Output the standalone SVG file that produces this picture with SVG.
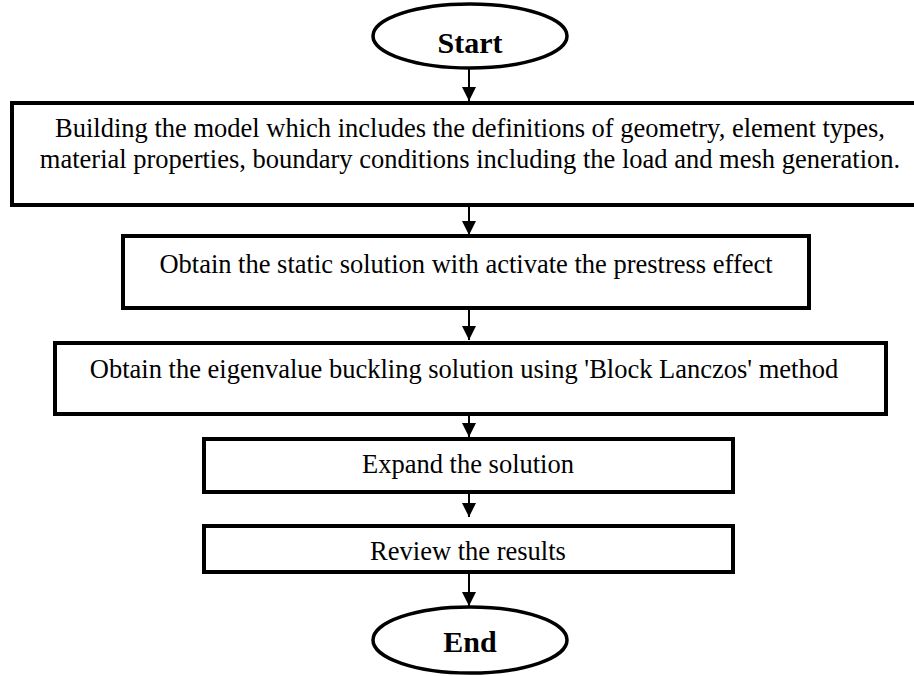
<svg xmlns="http://www.w3.org/2000/svg" width="914" height="676" viewBox="0 0 914 676">
<defs>
<style>
.box{fill:#fff;stroke:#000;stroke-width:4}
.term{fill:#fff;stroke:#000;stroke-width:3.5}
.t{font-family:"Liberation Serif","Times New Roman",serif;font-size:26.5px;fill:#000;text-anchor:middle}
.tb{font-family:"Liberation Serif","Times New Roman",serif;font-size:30px;font-weight:bold;fill:#000;text-anchor:middle}
.c{stroke:#000;stroke-width:2;fill:none;marker-end:url(#ah)}
</style>
<marker id="ah" viewBox="0 0 14 15" refX="14" refY="7" markerWidth="14" markerHeight="15" markerUnits="userSpaceOnUse" orient="auto">
<path d="M0,0 L14,7 L0,14 Z" fill="#000"/>
</marker>
</defs>
<rect width="914" height="676" fill="#fff"/>
<g id="connectors">
<line class="c" x1="469" y1="68" x2="469" y2="101"/>
<line class="c" x1="469" y1="206" x2="469" y2="235"/>
<line class="c" x1="469" y1="309" x2="469" y2="340"/>
<line class="c" x1="469" y1="414" x2="469" y2="437"/>
<line class="c" x1="469" y1="493" x2="469" y2="517"/>
<line class="c" x1="469" y1="573" x2="469" y2="606"/>
</g>
<g id="start">
<ellipse class="term" cx="470" cy="36" rx="97" ry="32"/>
<text class="tb" x="470" y="53">Start</text>
</g>
<g id="build">
<rect class="box" x="12" y="103" width="910" height="102"/>
<text class="t" x="470" y="137">Building the model which includes the definitions of geometry, element types,</text>
<text class="t" x="470" y="168">material properties, boundary conditions including the load and mesh generation.</text>
</g>
<g id="static">
<rect class="box" x="123" y="236" width="686" height="72"/>
<text class="t" x="466" y="273">Obtain the static solution with activate the prestress effect</text>
</g>
<g id="eigen">
<rect class="box" x="55" y="343" width="831" height="71"/>
<text class="t" x="464" y="378">Obtain the eigenvalue buckling solution using 'Block Lanczos' method</text>
</g>
<g id="expand">
<rect class="box" x="204" y="439" width="529" height="53"/>
<text class="t" x="468" y="473">Expand the solution</text>
</g>
<g id="review">
<rect class="box" x="204" y="526" width="529" height="46"/>
<text class="t" x="468" y="560">Review the results</text>
</g>
<g id="end">
<ellipse class="term" cx="470" cy="640" rx="97" ry="33"/>
<text class="tb" x="470" y="652">End</text>
</g>
</svg>
